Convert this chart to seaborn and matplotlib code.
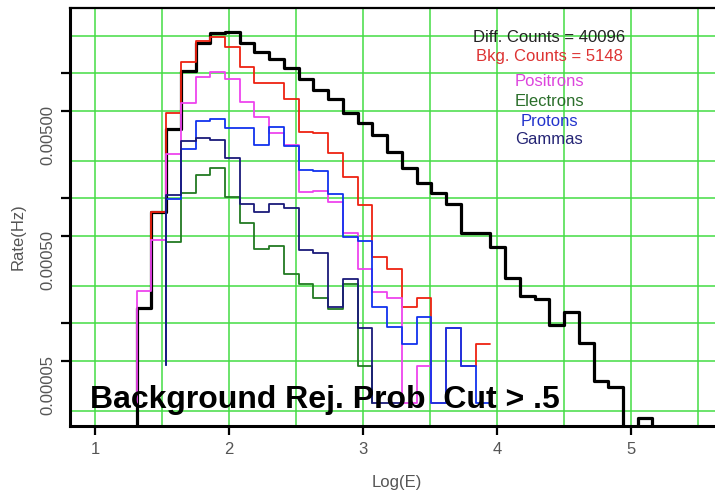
import numpy as np
import pandas as pd
import matplotlib
matplotlib.use("Agg")
import matplotlib.pyplot as plt
import matplotlib.ticker as mticker
import seaborn as sns

# Histogram binning in log10(E)
LOGE_START = 1.31
BIN_WIDTH = 0.11

# Rates (Hz) per bin; each series lists consecutive bins starting at its first bin
diffuse_first_bin = 0
diffuse_rate = [1.33e-4, 7.78e-4, 3.59e-3, 1.05e-2, 1.75e-2, 2.10e-2, 2.14e-2, 1.75e-2,
                1.48e-2, 1.30e-2, 1.10e-2, 9.02e-3, 7.36e-3, 6.24e-3, 4.82e-3, 4.01e-3,
                3.21e-3, 2.35e-3, 1.75e-3, 1.33e-3, 1.10e-3, 9.02e-4, 5.28e-4, 5.28e-4,
                4.08e-4, 2.31e-4, 1.66e-4, 1.57e-4, 9.70e-5, 1.23e-4, 6.97e-5, 3.46e-5,
                3.10e-5, 0.0, 1.75e-5]

bkg_first_bin = 1
bkg_rate = [7.78e-4, 4.82e-3, 1.23e-2, 1.82e-2, 1.95e-2, 1.63e-2, 1.12e-2, 8.38e-3,
            8.38e-3, 6.24e-3, 3.40e-3, 3.33e-3, 2.31e-3, 1.48e-3, 8.85e-4, 3.40e-4,
            2.72e-4, 1.35e-4, 1.60e-4, 2.31e-5, 9.18e-5, 4.56e-5, 6.84e-5]

positron_first_bin = 0
positron_rate = [1.82e-4, 4.65e-4, 2.26e-3, 5.79e-3, 9.35e-3, 1.03e-2, 9.02e-3, 5.90e-3,
                 4.48e-3, 3.33e-3, 2.67e-3, 1.12e-3, 1.15e-3, 9.35e-4, 5.28e-4, 2.72e-4,
                 1.78e-4, 1.60e-4, 2.31e-5, 4.56e-5]

electron_first_bin = 2
electron_rate = [4.48e-4, 1.10e-3, 1.54e-3, 1.75e-3, 1.03e-3, 6.35e-4, 3.94e-4, 4.16e-4,
                 2.48e-4, 2.07e-4, 1.60e-4, 1.30e-4, 2.07e-4, 4.56e-5]

proton_first_bin = 2
proton_rate = [9.89e-4, 2.48e-3, 4.16e-3, 4.32e-3, 3.66e-3, 3.66e-3, 2.67e-3, 3.72e-3,
               2.62e-3, 1.69e-3, 1.66e-3, 1.08e-3, 4.91e-4, 4.56e-4, 1.35e-4, 9.35e-5,
               6.84e-5, 1.12e-4, 2.31e-5, 9.18e-5, 4.56e-5, 2.31e-5]

gamma_first_bin = 2
gamma_rate = [1.06e-3, 2.88e-3, 3.04e-3, 2.93e-3, 2.10e-3, 9.02e-4, 7.78e-4, 9.02e-4,
              8.38e-4, 3.86e-4, 3.66e-4, 1.35e-4, 2.26e-4, 9.18e-5, 2.31e-5, 2.31e-5]

diff_counts = 40096
bkg_counts = 5148

series_names = ["Positrons", "Electrons", "Protons", "Gammas"]

# Outline baselines (where the histogram outline starts / ends vertically)
BOTTOM = 1e-6
ONE_COUNT = 2.31e-5
LOW_EDGE = 4.65e-5

sns.set_style("white")
plt.rcParams["font.family"] = ["Liberation Sans", "DejaVu Sans"]


def outline(first_bin, rates, start=None, end=None):
    """Step outline of a histogram as a long-form table."""
    n = len(rates)
    edges = LOGE_START + BIN_WIDTH * np.arange(first_bin, first_bin + n + 1)
    r = np.clip(np.asarray(rates, dtype=float), BOTTOM, None)
    xs = list(edges[:-1]) + [edges[-1]]
    ys = list(r) + [r[-1]]
    if start is not None:
        xs = [edges[0]] + xs
        ys = [start] + ys
    if end is not None:
        xs = xs + [edges[-1]]
        ys = ys + [end]
    return pd.DataFrame({"logE": xs, "rate": ys})


fig = plt.figure(figsize=(7.15, 4.93), dpi=100)
ax = fig.add_axes([70 / 715, 67 / 493, 655 / 715, 418 / 493])
ax.set_yscale("log")

grid_color = "#44dd44"

layers = [
    (diffuse_first_bin, diffuse_rate, BOTTOM, BOTTOM, "#000000", 2.3),
    (bkg_first_bin, bkg_rate, 4.65e-4, None, "#ee2211", 1.3),
    (positron_first_bin, positron_rate, ONE_COUNT, ONE_COUNT, "#ee44ee", 1.3),
    (electron_first_bin, electron_rate, LOW_EDGE, ONE_COUNT, "#227a22", 1.3),
    (proton_first_bin, proton_rate, LOW_EDGE, None, "#1133ee", 1.3),
    (gamma_first_bin, gamma_rate, LOW_EDGE, None, "#1a1a7a", 1.3),
]
for first, rates, start, end, color, lw in layers:
    df = outline(first, rates, start, end)
    sns.lineplot(data=df, x="logE", y="rate", estimator=None, sort=False,
                 drawstyle="steps-post", color=color, linewidth=lw, ax=ax,
                 zorder=3)

ax.set_xlim(0.8134, 5.701)
ax.set_ylim(1.51e-5, 3.33e-2)

ax.xaxis.set_major_locator(mticker.FixedLocator([1, 2, 3, 4, 5]))
ax.xaxis.set_minor_locator(mticker.FixedLocator([1.5, 2.5, 3.5, 4.5, 5.5]))
ax.xaxis.set_major_formatter(mticker.FormatStrFormatter("%d"))

ax.yaxis.set_major_locator(mticker.FixedLocator([1e-2, 5e-3, 1e-3, 5e-4, 1e-4, 5e-5]))
ax.yaxis.set_major_formatter(mticker.FixedFormatter(["", "0.00500", "", "0.00050", "", "0.00005"]))
ax.yaxis.set_minor_locator(mticker.FixedLocator([2e-2, 2e-3, 2e-4, 2e-5]))
ax.yaxis.set_minor_formatter(mticker.NullFormatter())

ax.grid(True, which="both", color=grid_color, linewidth=1.1, zorder=0)
ax.set_axisbelow(True)

ax.tick_params(axis="both", which="major", direction="out", colors="black",
               labelcolor="#555555", labelsize=12, width=1.6, length=6.5)
ax.tick_params(axis="x", which="major", pad=5, bottom=True)
ax.tick_params(axis="y", which="major", pad=4, labelrotation=90, left=True)
ax.tick_params(axis="both", which="minor", length=0)

for side in ["left", "bottom"]:
    ax.spines[side].set_linewidth(2.2)
    ax.spines[side].set_color("black")
ax.spines["top"].set_linewidth(1.6)
ax.spines["top"].set_color("black")
ax.spines["right"].set_visible(False)

ax.set_xlabel("Log(E)", fontsize=12, color="#555555")
ax.xaxis.set_label_coords((397 - 70) / 655, -(482 - 426) / 418)
ax.xaxis.label.set_va("center")
ax.set_ylabel("Rate(Hz)", fontsize=12, color="#555555", ha="center", va="center")
ax.yaxis.set_label_coords((18 - 70) / 655, (426 - 237) / 418)

# Count summary and species key
cx = 549.5 / 715
text_rows = [
    (f"Diff. Counts = {diff_counts}", "#222222", 37),
    (f"Bkg. Counts = {bkg_counts}", "#dd3333", 57),
    (series_names[0], "#dd44dd", 82),
    (series_names[1], "#2a6e2a", 101),
    (series_names[2], "#2233cc", 121),
    (series_names[3], "#252575", 140),
]
for label, color, ypx in text_rows:
    fig.text(cx, 1 - ypx / 493, label, color=color, fontsize=12,
             ha="center", va="center")

fig.text(90 / 715, 1 - 408 / 493, "Background Rej. Prob  Cut > .5",
         fontsize=23, fontweight="bold", color="black", ha="left", va="baseline",
         zorder=10)

fig.savefig("out.png", dpi=100)
